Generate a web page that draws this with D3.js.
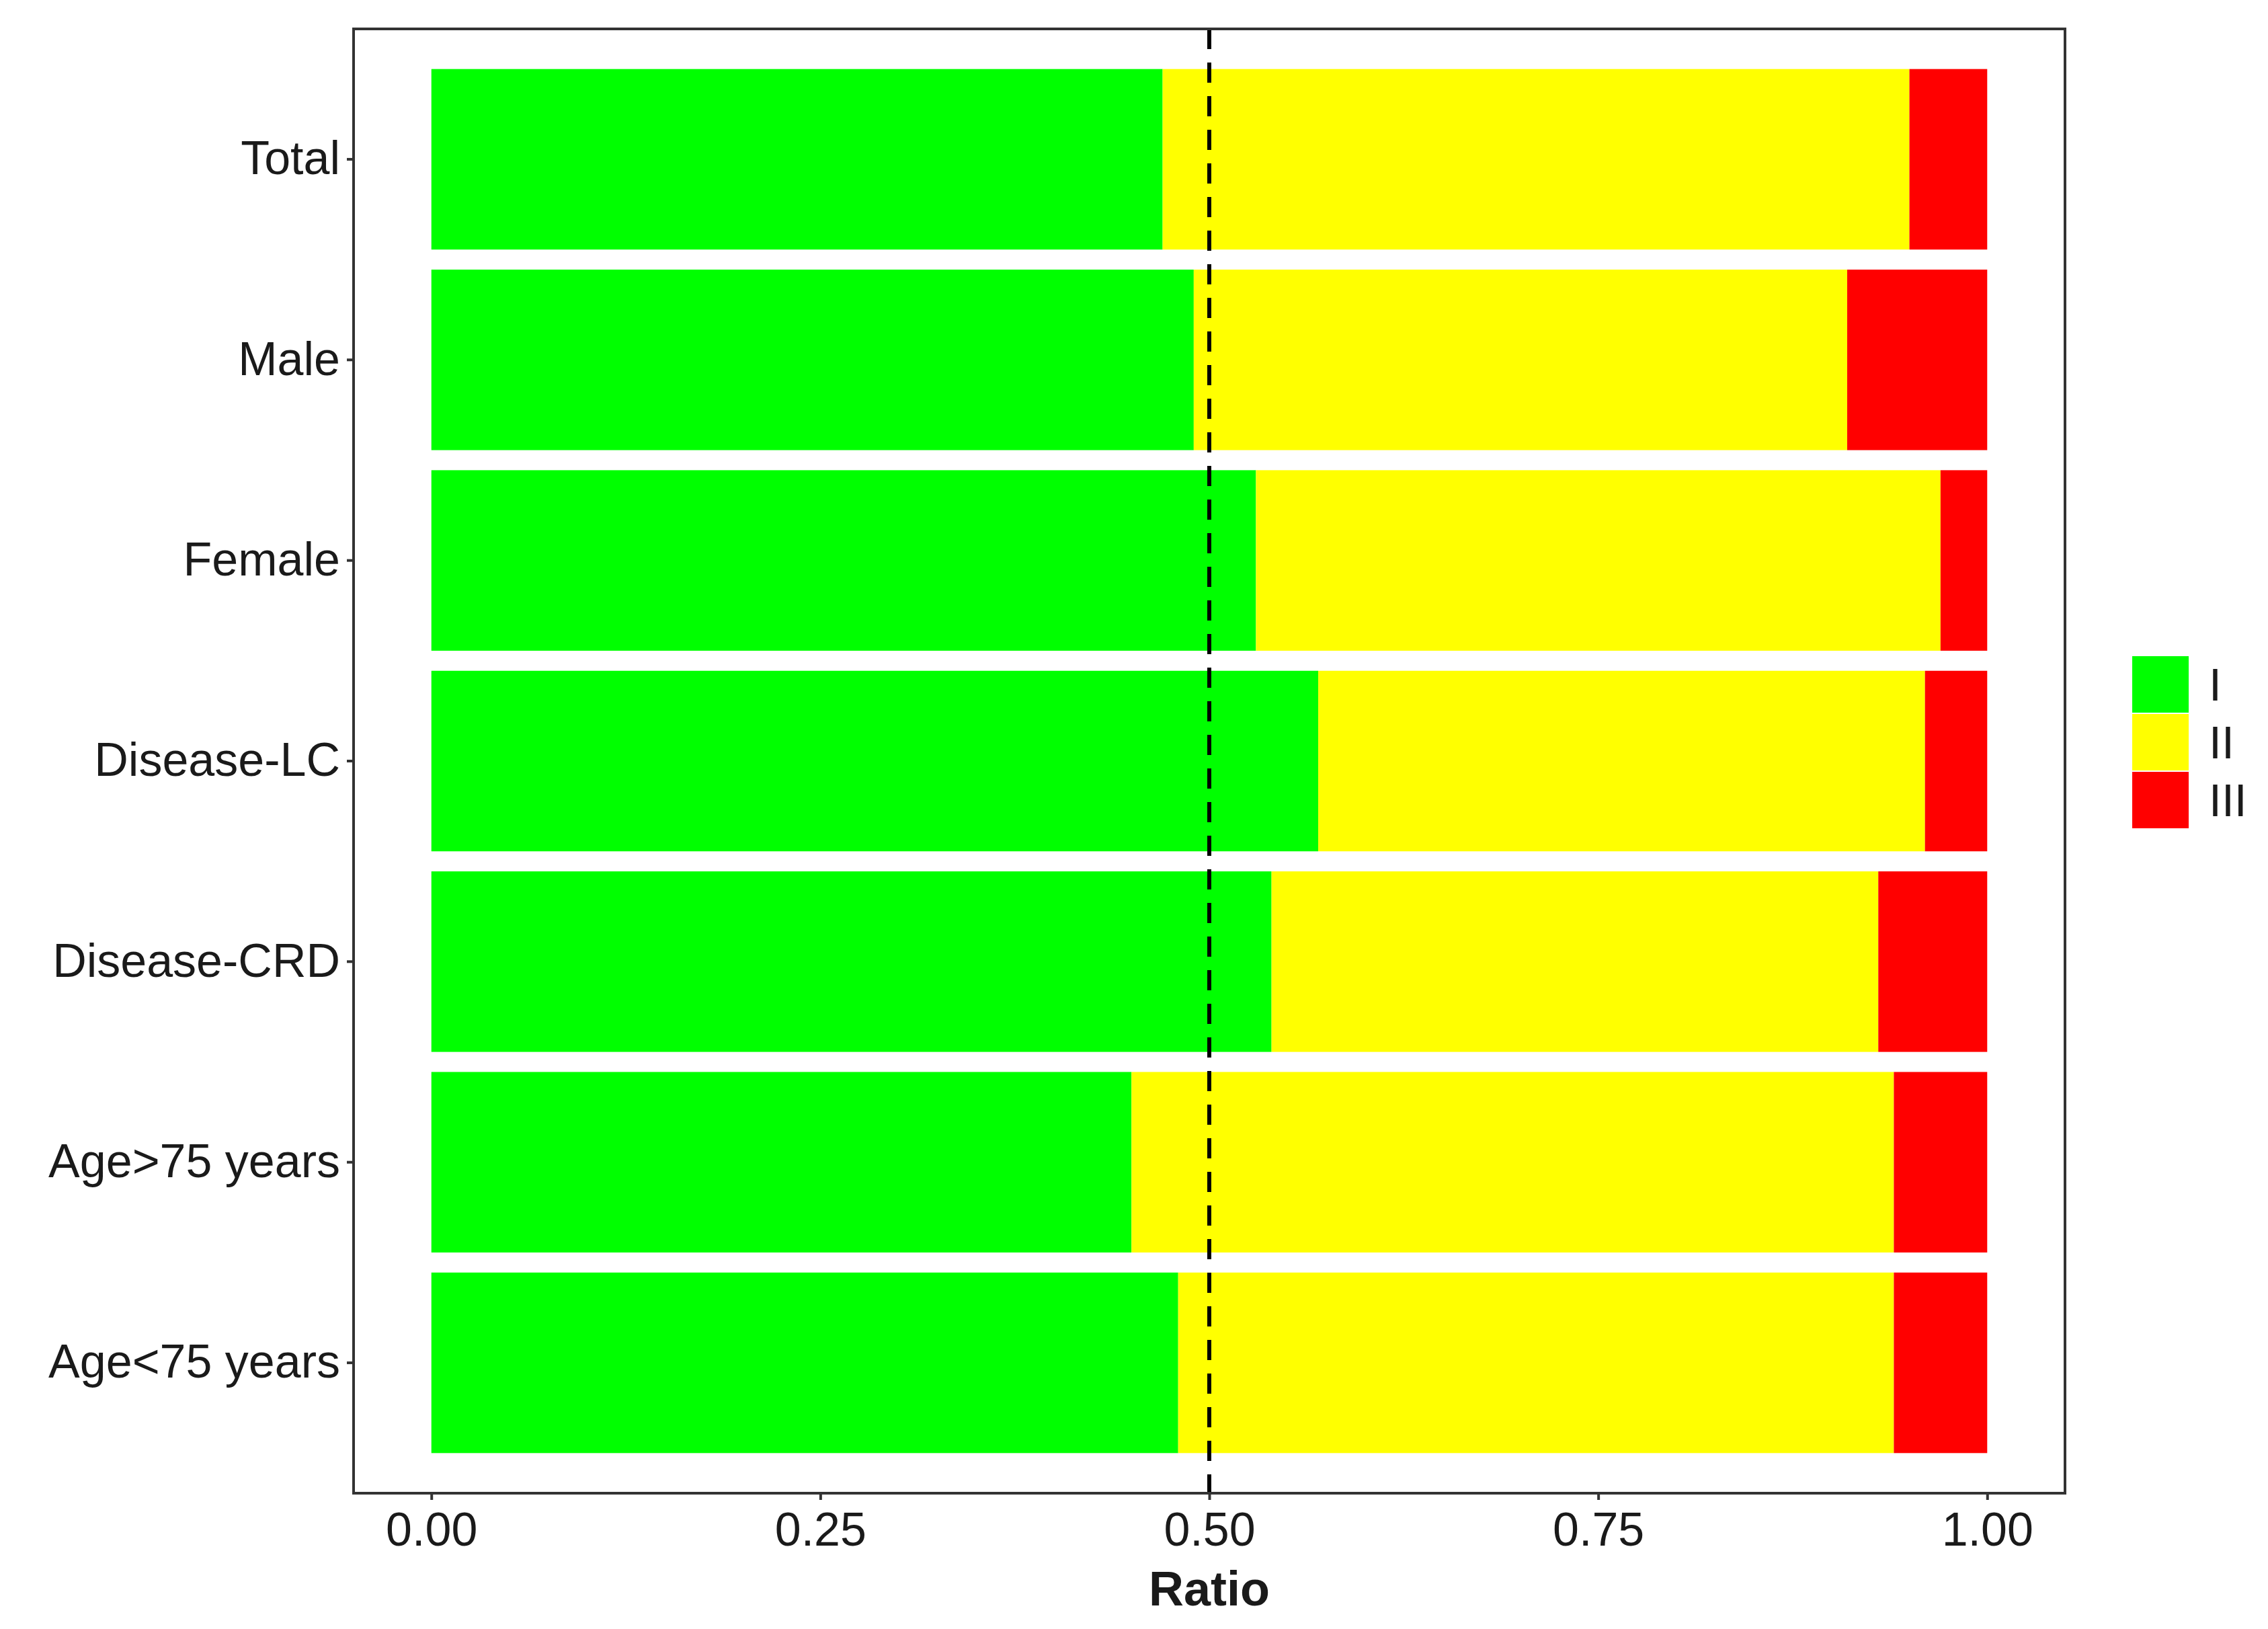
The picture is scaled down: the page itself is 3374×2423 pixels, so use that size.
<!DOCTYPE html><html><head><meta charset="utf-8"><script src="https://cdn.jsdelivr.net/npm/d3@7"></script>
<style>body{margin:0;background:#fff}text{font-family:"Liberation Sans",Arial,sans-serif}</style></head><body>
<script>
const categories=["Total","Male","Female","Disease-LC","Disease-CRD","Age>75 years","Age<75 years"];
const seriesI=[0.47,0.49,0.53,0.57,0.54,0.45,0.48];
const seriesII=[0.48,0.42,0.44,0.39,0.39,0.49,0.46];
const seriesIII=[0.05,0.09,0.03,0.04,0.07,0.06,0.06];
const seriesNames=["I","II","III"];
const colors=["#00ff00","#ffff00","#ff0000"];
const xTicks=[0,0.25,0.5,0.75,1];
const W=3374,H=2423,L=526,R=3072,T=43,B=2221;
const svg=d3.select("body").append("svg").attr("width",W).attr("height",H);
const x=d3.scaleLinear().domain([-0.05,1.05]).range([L,R]);
const y=d3.scaleBand().domain(categories).range([T,B]).paddingInner(0.1).paddingOuter(0.2);
const data=categories.map((c,i)=>({cat:c,I:seriesI[i],II:seriesII[i],III:seriesIII[i]}));
const stack=d3.stack().keys(seriesNames)(data);
svg.append("g").selectAll("g").data(stack).join("g").attr("fill",(d,i)=>colors[i])
 .selectAll("rect").data(d=>d).join("rect")
 .attr("x",d=>x(d[0])).attr("width",d=>x(d[1])-x(d[0]))
 .attr("y",d=>y(d.data.cat)).attr("height",y.bandwidth());
svg.append("line").attr("x1",x(0.5)).attr("x2",x(0.5)).attr("y1",T).attr("y2",B)
 .attr("stroke","#000").attr("stroke-width",6).attr("stroke-dasharray","30,20");
svg.append("rect").attr("x",L).attr("y",T).attr("width",R-L).attr("height",B-T).attr("fill","none").attr("stroke","#333").attr("stroke-width",4);
const xa=svg.append("g").attr("transform",`translate(0,${B})`).call(d3.axisBottom(x).tickValues(xTicks).tickFormat(d3.format(".2f")).tickSize(10).tickPadding(18));
const ya=svg.append("g").attr("transform",`translate(${L},0)`).call(d3.axisLeft(y).tickSize(10).tickPadding(10));
[xa,ya].forEach(a=>{a.select(".domain").remove();a.selectAll("line").attr("stroke","#333").attr("stroke-width",4);a.selectAll("text").attr("font-size",70).attr("fill","#1a1a1a").attr("font-family","Liberation Sans, Arial, sans-serif");});
svg.append("text").attr("x",(L+R)/2).attr("y",2388).attr("text-anchor","middle").attr("font-size",72).attr("font-weight","bold").attr("fill","#1a1a1a").text("Ratio");
const lg=svg.append("g").attr("transform","translate(3172,976)");
seriesNames.forEach((n,i)=>{lg.append("rect").attr("x",0).attr("y",i*86).attr("width",84).attr("height",84).attr("fill",colors[i]);
 lg.append("text").attr("x",114).attr("y",i*86+42).attr("dy","0.36em").attr("font-size",68).attr("fill","#1a1a1a").text(n);});
</script></body></html>
